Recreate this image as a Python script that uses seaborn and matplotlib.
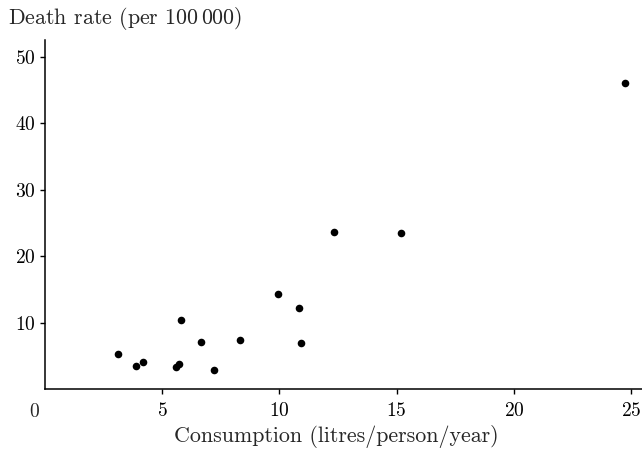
import matplotlib
matplotlib.use("Agg")
import matplotlib.pyplot as plt
import seaborn as sns
import pandas as pd

# Alcohol consumption vs. cirrhosis death rate
consumption = [3.14, 3.90, 4.20, 5.60, 5.74, 5.82, 6.65, 7.22, 8.32,
               9.94, 10.85, 10.91, 12.32, 15.20, 24.74]
death_rate = [5.3, 3.5, 4.2, 3.4, 3.8, 10.4, 7.2, 3.0, 7.4,
              14.3, 12.3, 7.0, 23.7, 23.6, 46.1]
x_ticks = [5, 10, 15, 20, 25]
y_ticks = [10, 20, 30, 40, 50]

df = pd.DataFrame({"consumption": consumption, "death_rate": death_rate})

sns.set_style("ticks")
plt.rcParams["font.family"] = "serif"
plt.rcParams["font.serif"] = ["cmr10"]
plt.rcParams["mathtext.fontset"] = "cm"
plt.rcParams["axes.formatter.use_mathtext"] = True

TICK_FS = 14
LABEL_FS = 15.8

fig = plt.figure(figsize=(6.42, 4.55), dpi=100)
ax = fig.add_axes([0.0696, 0.144, 0.930, 0.768])

sns.scatterplot(data=df, x="consumption", y="death_rate", ax=ax,
                color="black", s=30, linewidth=0, legend=False)

ax.set_xlim(0, 25.45)
ax.set_ylim(0, 52.55)
ax.set_xticks(x_ticks)
ax.set_yticks(y_ticks)
ax.tick_params(axis="both", direction="out", length=3.8, width=1,
               colors="black", labelsize=TICK_FS)
ax.tick_params(axis="x", pad=5.5)
ax.tick_params(axis="y", pad=3)
for side in ("top", "right"):
    ax.spines[side].set_visible(False)
for side in ("left", "bottom"):
    ax.spines[side].set_linewidth(1.1)
    ax.spines[side].set_color("black")

# Origin label sits left of the corner, without a tick mark
ax.annotate("0", xy=(0, 0), xycoords="axes fraction",
            xytext=(-7.7, -16.5), textcoords="offset points",
            ha="center", va="center", fontsize=TICK_FS)

ax.set_xlabel("Consumption (litres/person/year)", fontsize=LABEL_FS,
              va="center")
ax.xaxis.set_label_coords(0.488, -0.135)
ax.set_ylabel("Death rate (per 100$\\,$000)", fontsize=LABEL_FS, rotation=0,
              ha="left", va="center")
ax.yaxis.set_label_coords(-0.0615, 1.063)

fig.savefig("out.png", dpi=100, facecolor="white")
